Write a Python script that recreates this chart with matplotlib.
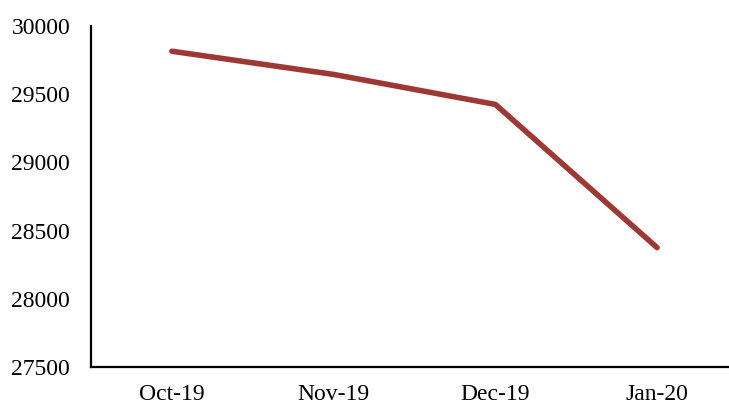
import matplotlib
matplotlib.use('Agg')
import matplotlib.pyplot as plt

months = ['Oct-19', 'Nov-19', 'Dec-19', 'Jan-20']
values = [29815, 29645, 29425, 28375]
y_ticks = [27500, 28000, 28500, 29000, 29500, 30000]

plt.rcParams['font.family'] = ['Liberation Serif', 'DejaVu Serif']

fig = plt.figure(figsize=(7.29, 4.05), dpi=100)
# axes box in figure fractions (left 91px, top 26px, bottom 367px)
ax = fig.add_axes([91 / 729, 1 - 367 / 405, (729 - 91) / 729, (367 - 26) / 405])

x = list(range(len(months)))
ax.plot(x, values, color='#9E3835', linewidth=4, solid_capstyle='round')

ax.set_ylim(27500, 30000)
ax.set_xlim(-0.5, 3.5 - 9 / 161.7)
ax.set_yticks(y_ticks)
ax.set_xticks(x)
ax.set_xticklabels(months)

for s in ['top', 'right']:
    ax.spines[s].set_visible(False)
for s in ['left', 'bottom']:
    ax.spines[s].set_linewidth(1.6)

ax.tick_params(axis='y', length=0, pad=15, labelsize=17)
ax.tick_params(axis='x', length=0, pad=12, labelsize=17)

fig.savefig('out.png', dpi=100)
